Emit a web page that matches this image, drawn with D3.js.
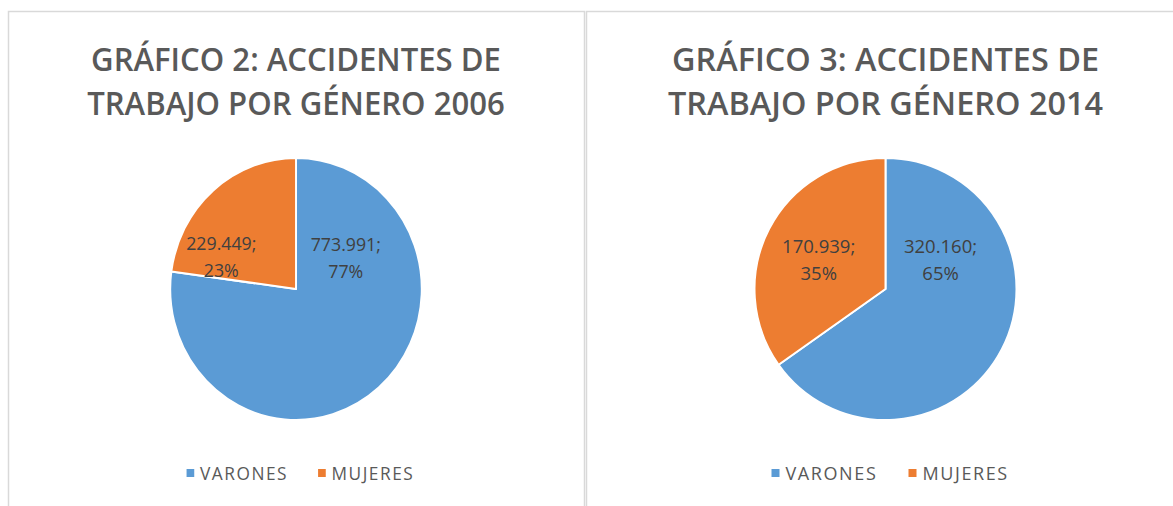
<!DOCTYPE html>
<html>
<head>
	<meta charset="utf-8">
	<title>Accidentes de trabajo por género</title>
	<script src="https://cdn.jsdelivr.net/npm/d3@7"></script>
	<style>
		body {
			margin: 0;
			background: #fff;
			font-family: "Open Sans", "Noto Sans", sans-serif;
		}
	</style>
</head>
<body>
	<div id="chart"></div>
	<script>

		// data

		const categories = ["VARONES", "MUJERES"];
		const titles2006 = ["GRÁFICO 2: ACCIDENTES DE", "TRABAJO POR GÉNERO 2006"];
		const titles2014 = ["GRÁFICO 3: ACCIDENTES DE", "TRABAJO POR GÉNERO 2014"];
		const values2006 = [773991, 229449];
		const values2014 = [320160, 170939];
		const colors = ["#5B9BD5", "#ED7D31"];

		// layout

		const width = 1173;
		const height = 506;
		const titleColor = "#595959";
		const labelColor = "#404040";

		// the left chart is squeezed a little horizontally in the original
		const charts = [
			{ title: titles2006, values: values2006, x0: 8, x1: 584, cx: 296, sx: 0.96,
				labelOffsets: [[0.396, -0.25], [-0.594, -0.26]] },
			{ title: titles2014, values: values2014, x0: 586, x1: 1180, cx: 885.5, sx: 1,
				labelOffsets: [[0.42, -0.24], [-0.51, -0.24]] }
		];

		const cy = 289;
		const radius = 131;

		const fmtNum = d3.formatLocale({ decimal: ",", thousands: ".", grouping: [3], currency: ["", ""] }).format(",d");

		const svg = d3.select("#chart").append("svg")
			.attr("width", width)
			.attr("height", height)
			.attr("viewBox", [0, 0, width, height]);

		const pie = d3.pie().sort(null).value(d => d);
		const arc = d3.arc().innerRadius(0).outerRadius(radius);

		charts.forEach(c => {
			// frame
			svg.append("rect")
				.attr("x", c.x0 + 0.5)
				.attr("y", 11.5)
				.attr("width", c.x1 - c.x0)
				.attr("height", height + 20)
				.attr("fill", "none")
				.attr("stroke", "#d9d9d9")
				.attr("stroke-width", 1.5);

			const g = svg.append("g")
				.attr("transform", `translate(${c.cx},0) scale(${c.sx},1)`);

			// title
			g.append("text")
				.attr("text-anchor", "middle")
				.attr("fill", titleColor)
				.style("font-size", "32.4px")
				.style("font-weight", 600)
				.selectAll("tspan")
				.data(c.title)
				.join("tspan")
				.attr("x", 0)
				.attr("y", (d, i) => i ? 115 : 71)
				.text(d => d);

			const total = d3.sum(c.values);
			const arcs = pie(c.values);

			const pg = g.append("g").attr("transform", `translate(0,${cy})`);

			pg.selectAll("path")
				.data(arcs)
				.join("path")
				.attr("d", arc)
				.attr("fill", (d, i) => colors[i])
				.attr("stroke", "#fff")
				.attr("stroke-width", 2)
				.attr("stroke-linejoin", "round");

			// data labels
			const lbl = pg.selectAll("text.lbl")
				.data(arcs)
				.join("text")
				.attr("class", "lbl")
				.attr("text-anchor", "middle")
				.attr("fill", labelColor)
				.style("font-size", "18.5px")
				.attr("transform", (d, i) => `translate(${c.labelOffsets[i][0] * radius},${c.labelOffsets[i][1] * radius})`);

			lbl.append("tspan")
				.attr("x", 0)
				.attr("y", -5)
				.text(d => fmtNum(d.data) + ";");
			lbl.append("tspan")
				.attr("x", 0)
				.attr("y", 22)
				.text(d => Math.round(d.data / total * 100) + "%");

			// legend
			const items = g.append("g")
				.attr("transform", "translate(0,473)")
				.selectAll("g")
				.data(categories)
				.join("g")
				.attr("transform", (d, i) => `translate(${i ? 23 : -114},0)`);
			items.append("rect")
				.attr("x", 0)
				.attr("y", -4)
				.attr("width", 8)
				.attr("height", 8)
				.attr("fill", (d, i) => colors[i]);
			items.append("text")
				.attr("x", 14)
				.attr("y", 6.5)
				.attr("fill", titleColor)
				.style("font-size", "18px")
				.style("letter-spacing", "1.6px")
				.text(d => d);
		});

	</script>
</body>
</html>
